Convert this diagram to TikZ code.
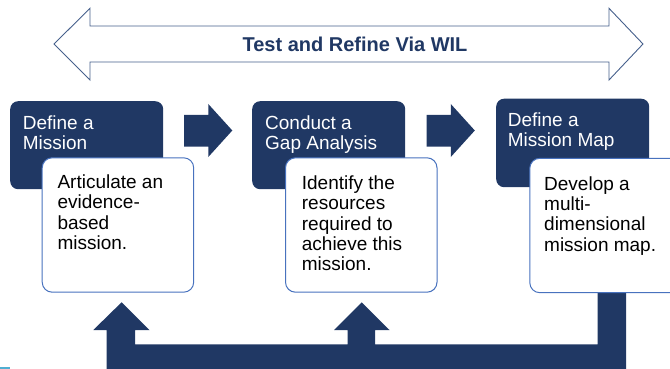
\documentclass[tikz,border=0pt]{standalone}
\usepackage{fontspec}
\setmainfont{Liberation Sans}
\begin{document}
\definecolor{navy}{RGB}{32,56,100}
\definecolor{boxline}{RGB}{72,114,190}
\definecolor{outline}{RGB}{70,96,140}
\definecolor{tick}{RGB}{80,175,210}
\begin{tikzpicture}[x=1pt,y=-1pt,
  darkbox/.style={fill=navy, draw=none, rounded corners=8pt, minimum width=153pt, minimum height=88pt, anchor=north west, inner sep=0pt},
  notebox/.style={fill=white, draw=boxline, line width=1pt, rounded corners=10pt, minimum width=151.5pt, minimum height=134.4pt, anchor=north west, inner sep=0pt},
  head/.style={anchor=base west, align=left, inner sep=0pt, text=white, font=\fontsize{19}{20}\selectfont},
  body/.style={anchor=base west, align=left, inner sep=0pt, text=black, font=\fontsize{19}{20.4}\selectfont},
  blockarrow/.style={fill=navy, draw=none}]
\useasboundingbox (0,0) rectangle (670,369);
\clip (0,0) rectangle (670,369);

% two-headed outline arrow across the top
\draw[outline, line width=0.9pt, fill=white, line join=miter]
  (54,44) -- (90,8.3) -- (90,26) -- (609,26) -- (609,8.3) -- (643,44)
  -- (609,80) -- (609,62) -- (90,62) -- (90,80) -- cycle;
\node[anchor=base, inner sep=0pt, text=navy, font=\fontsize{20}{22}\selectfont\bfseries] (title) at (355,51.7) {Test and Refine Via WIL};

% feedback connector along the bottom
\fill[navy]
  (106.7,370) -- (106.7,330) -- (93.3,330) -- (121.6,302.3) -- (149.5,330)
  -- (135,330) -- (135,344.3) -- (347.7,344.3) -- (347.7,330) -- (334,330)
  -- (361.7,302.3) -- (389.5,330) -- (375,330) -- (375,344.3) -- (597.7,344.3)
  -- (597.7,285) -- (626,285) -- (626,370) -- cycle;

% forward block arrows between the steps
\fill[navy] (184,115) -- (208.3,115) -- (208.3,104) -- (232.3,130.5)
  -- (208.3,157) -- (208.3,146.7) -- (184,146.7) -- cycle;
\fill[navy] (426.5,115) -- (450.8,115) -- (450.8,104) -- (474.8,130.5)
  -- (450.8,157) -- (450.8,146.7) -- (426.5,146.7) -- cycle;

% step headers (anchored on the baseline of the last line)
\node[darkbox] (d1) at (10,101) {};
\node[darkbox] (d2) at (252,101) {};
\node[darkbox, minimum height=88.5pt] (d3) at (496,98.5) {};
\node[head] (h1) at (22.7,149.3) {Define a\\Mission};
\node[head] (h2) at (265,149.8) {Conduct a\\Gap Analysis};
\node[head] (h3) at (507.7,146.8) {Define a\\Mission Map};

% step descriptions
\node[notebox] (w1) at (41.7,157.3) {};
\node[notebox] (w2) at (285,157.3) {};
\node[notebox, minimum width=170pt] (w3) at (529.3,157.8) {};
\node[body] (b1) at (57.3,249.7) {Articulate an\\evidence-\\based\\mission.};
\node[body] (b2) at (301.7,270.9) {Identify the\\resources\\required to\\achieve this\\mission.};
\node[body] (b3) at (544,251.2) {Develop a\\multi-\\dimensional\\mission map.};

% small mark at the lower left edge
\draw[tick, line width=2pt] (0,368) -- (10,368);
\end{tikzpicture}
\end{document}
